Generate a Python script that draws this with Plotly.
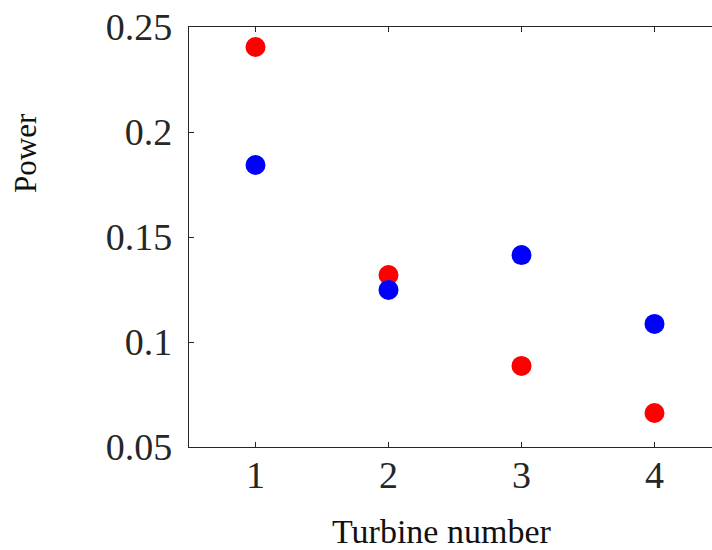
import plotly.graph_objects as go

# Power per turbine for the two configurations
turbines = [1, 2, 3, 4]
power_red = [0.2405, 0.1319, 0.0886, 0.0662]
power_blue = [0.1843, 0.1248, 0.1414, 0.1086]

y_ticks = [0.05, 0.1, 0.15, 0.2, 0.25]
y_tick_text = ["0.05", "0.1", "0.15", "0.2", "0.25"]
x_ticks = [1, 2, 3, 4]
x_tick_text = ["1", "2", "3", "4"]

axis_color = "#262626"
font_family = "Liberation Serif"

fig = go.Figure()
fig.add_trace(go.Scatter(x=turbines, y=power_red, mode="markers",
                         marker=dict(color="#ff0000", size=20, line=dict(width=0)),
                         showlegend=False))
fig.add_trace(go.Scatter(x=turbines, y=power_blue, mode="markers",
                         marker=dict(color="#0000ff", size=20, line=dict(width=0)),
                         showlegend=False))

fig.update_layout(
    width=712, height=550,
    margin=dict(l=189, r=0, t=27, b=103),
    plot_bgcolor="white", paper_bgcolor="white",
    font=dict(family=font_family, color=axis_color),
    xaxis=dict(
        range=[0.5, 0.5 + 523 / 133], tickvals=x_ticks, ticktext=x_tick_text,
        showgrid=False, zeroline=False, showline=True, linecolor=axis_color,
        linewidth=1.3, mirror="ticks", ticks="inside", ticklen=5, tickwidth=1,
        tickcolor=axis_color, tickfont=dict(size=38, family=font_family, color=axis_color),
        ticklabelstandoff=-6,
    ),
    yaxis=dict(
        range=[0.05, 0.25], tickvals=y_ticks, ticktext=y_tick_text,
        showgrid=False, zeroline=False, showline=True, linecolor=axis_color,
        linewidth=1.3, mirror=False, ticks="inside", ticklen=5, tickwidth=1,
        tickcolor=axis_color, tickfont=dict(size=38, family=font_family, color=axis_color),
        ticklabelstandoff=8,
    ),
    annotations=[
        dict(text="Turbine number", x=441, y=531, xref="paper", yref="paper",
             xanchor="center", yanchor="middle",
             showarrow=False, font=dict(size=34, family=font_family, color="#111111")),
        dict(text="Power", x=25, y=153, xref="paper", yref="paper", textangle=-90,
             xanchor="center", yanchor="middle",
             showarrow=False, font=dict(size=31, family=font_family, color="#111111")),
    ],
)

# annotation positions given in pixels, converted to paper coordinates
pw, ph = 712 - 189, 550 - 27 - 103
for a in fig.layout.annotations:
    px, py = a.x, a.y
    a.x = (px - 189) / pw
    a.y = (550 - 103 - py) / ph

fig.write_html("out.html")
